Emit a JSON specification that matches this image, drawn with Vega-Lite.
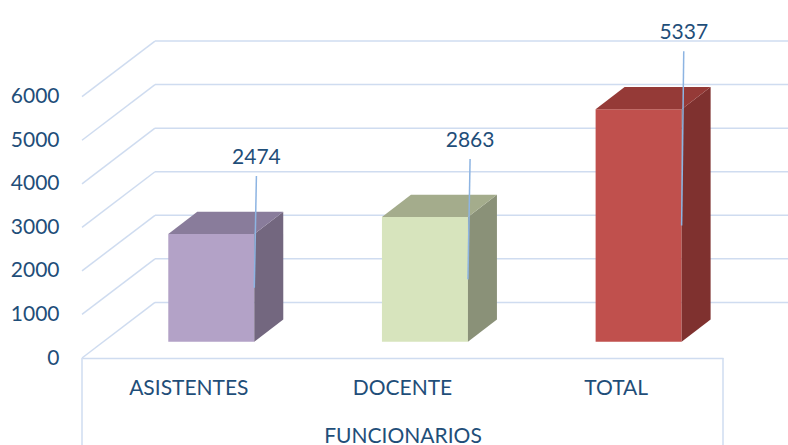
{
  "$schema": "https://vega.github.io/schema/vega-lite/v6.json",
  "width": 641,
  "height": 358,
  "autosize": {"type": "none"},
  "padding": {"left": 82, "top": 0, "right": 65, "bottom": 87},
  "background": "white",
  "config": {"view": {"stroke": null}, "font": "Lato"},
  "datasets": {
    "funcionarios": [
      {"cat": "ASISTENTES", "v": 2474},
      {"cat": "DOCENTE", "v": 2863},
      {"cat": "TOTAL", "v": 5337}
    ],
    "ticks": [{"g": 0}, {"g": 1000}, {"g": 2000}, {"g": 3000}, {"g": 4000}, {"g": 5000}, {"g": 6000}]
  },
  "layer": [
    {
      "data": {"name": "ticks"},
      "transform": [{"calculate": "datum.g + 1277", "as": "gb"}],
      "mark": {"type": "rule", "color": "#cfdcf0", "strokeWidth": 1.5},
      "encoding": {
        "x": {"datum": 0, "type": "quantitative", "scale": {"domain": [0, 3], "nice": false, "zero": false},
          "axis": {"title": "FUNCIONARIOS", "titleFont": "Lato", "titleFontSize": 21, "titleFontWeight": "normal", "titleColor": "#1f4e79", "titlePadding": 67, "labels": false, "ticks": false, "grid": false, "domain": true, "domainColor": "#cfdcf0", "domainWidth": 1.5}},
        "x2": {"datum": 0.3416},
        "y": {"field": "g", "type": "quantitative", "scale": {"domain": [0, 8220], "nice": false, "zero": false},
          "axis": {"title": null, "format": "d", "values": [0, 1000, 2000, 3000, 4000, 5000, 6000], "labelFont": "Lato", "labelFontSize": 21, "labelColor": "#1f4e79", "labelPadding": 23, "domain": false, "ticks": false, "grid": false}},
        "y2": {"field": "gb"}
      }
    },
    {
      "data": {"name": "ticks"},
      "transform": [{"calculate": "datum.g + 1277", "as": "gb"}],
      "mark": {"type": "rule", "color": "#cfdcf0", "strokeWidth": 1.5},
      "encoding": {
        "x": {"datum": 0.3416, "type": "quantitative", "scale": {"domain": [0, 3], "nice": false, "zero": false},
          "axis": {"title": "FUNCIONARIOS", "titleFont": "Lato", "titleFontSize": 21, "titleFontWeight": "normal", "titleColor": "#1f4e79", "titlePadding": 67, "labels": false, "ticks": false, "grid": false, "domain": true, "domainColor": "#cfdcf0", "domainWidth": 1.5}},
        "x2": {"datum": 3.4},
        "y": {"field": "gb", "type": "quantitative", "scale": {"domain": [0, 8220], "nice": false, "zero": false},
          "axis": {"title": null, "format": "d", "values": [0, 1000, 2000, 3000, 4000, 5000, 6000], "labelFont": "Lato", "labelFontSize": 21, "labelColor": "#1f4e79", "labelPadding": 23, "domain": false, "ticks": false, "grid": false}}
      }
    },
    {
      "data": {"name": "funcionarios"},
      "transform": [
        {"window": [{"op": "row_number", "as": "rn"}]},
        {"aggregate": [{"op": "min", "field": "rn", "as": "lo0"}, {"op": "max", "field": "rn", "as": "hi0"}]},
        {"calculate": "datum.lo0 - 1", "as": "lo"},
        {"calculate": "datum.hi0", "as": "hi"},
        {"fold": ["lo", "hi"], "as": ["edge", "ex"]}
      ],
      "mark": {"type": "rule", "color": "#cfdcf0", "strokeWidth": 1.5},
      "encoding": {
        "x": {"field": "ex", "type": "quantitative", "scale": {"domain": [0, 3], "nice": false, "zero": false},
          "axis": {"title": "FUNCIONARIOS", "titleFont": "Lato", "titleFontSize": 21, "titleFontWeight": "normal", "titleColor": "#1f4e79", "titlePadding": 67, "labels": false, "ticks": false, "grid": false, "domain": true, "domainColor": "#cfdcf0", "domainWidth": 1.5}},
        "y": {"datum": 0, "type": "quantitative", "scale": {"domain": [0, 8220], "nice": false, "zero": false},
          "axis": {"title": null, "format": "d", "values": [0, 1000, 2000, 3000, 4000, 5000, 6000], "labelFont": "Lato", "labelFontSize": 21, "labelColor": "#1f4e79", "labelPadding": 23, "domain": false, "ticks": false, "grid": false}},
        "y2": {"datum": -2000}
      }
    },
    {
      "data": {"name": "funcionarios"},
      "transform": [
        {"window": [{"op": "row_number", "as": "rn"}]},
        {"calculate": "datum.rn - 1", "as": "i"},
        {"calculate": "datum.i + 0.4038", "as": "fx0"},
        {"calculate": "datum.i + 0.8063", "as": "fx1"},
        {"calculate": "374", "as": "yb"},
        {"calculate": "374 + datum.v", "as": "yt"}
      ],
      "mark": {"type": "rect"},
      "encoding": {
        "x": {"field": "fx0", "type": "quantitative", "scale": {"domain": [0, 3], "nice": false, "zero": false},
          "axis": {"title": "FUNCIONARIOS", "titleFont": "Lato", "titleFontSize": 21, "titleFontWeight": "normal", "titleColor": "#1f4e79", "titlePadding": 67, "labels": false, "ticks": false, "grid": false, "domain": true, "domainColor": "#cfdcf0", "domainWidth": 1.5}},
        "x2": {"field": "fx1"},
        "y": {"field": "yb", "type": "quantitative", "scale": {"domain": [0, 8220], "nice": false, "zero": false},
          "axis": {"title": null, "format": "d", "values": [0, 1000, 2000, 3000, 4000, 5000, 6000], "labelFont": "Lato", "labelFontSize": 21, "labelColor": "#1f4e79", "labelPadding": 23, "domain": false, "ticks": false, "grid": false}},
        "y2": {"field": "yt"},
        "color": {"field": "cat", "type": "nominal", "scale": {"domain": ["ASISTENTES", "DOCENTE", "TOTAL"], "range": ["#b3a2c7", "#d7e4bd", "#c0504d"]}, "legend": null}
      }
    },
    {
      "data": {"name": "funcionarios"},
      "transform": [
        {"window": [{"op": "row_number", "as": "rn"}]},
        {"calculate": "datum.rn - 1", "as": "i"},
        {"calculate": "datum.i + 0.8063", "as": "sa"},
        {"calculate": "datum.i + 0.8063 + 0.1357", "as": "sb"},
        {"fold": ["sa", "sb"], "as": ["k", "sx"]},
        {"calculate": "datum.k == 'sb' ? 512 : 0", "as": "off"},
        {"calculate": "374 + datum.off", "as": "lo"},
        {"calculate": "374 + datum.v + datum.off", "as": "hi"}
      ],
      "mark": {"type": "area", "orient": "vertical"},
      "encoding": {
        "x": {"field": "sx", "type": "quantitative", "scale": {"domain": [0, 3], "nice": false, "zero": false},
          "axis": {"title": "FUNCIONARIOS", "titleFont": "Lato", "titleFontSize": 21, "titleFontWeight": "normal", "titleColor": "#1f4e79", "titlePadding": 67, "labels": false, "ticks": false, "grid": false, "domain": true, "domainColor": "#cfdcf0", "domainWidth": 1.5}},
        "y": {"field": "hi", "type": "quantitative", "scale": {"domain": [0, 8220], "nice": false, "zero": false},
          "axis": {"title": null, "format": "d", "values": [0, 1000, 2000, 3000, 4000, 5000, 6000], "labelFont": "Lato", "labelFontSize": 21, "labelColor": "#1f4e79", "labelPadding": 23, "domain": false, "ticks": false, "grid": false}},
        "y2": {"field": "lo"},
        "detail": {"field": "cat"},
        "color": {"field": "cat", "type": "nominal", "scale": {"domain": ["ASISTENTES", "DOCENTE", "TOTAL"], "range": ["#73677f", "#8a9178", "#7f312f"]}, "legend": null}
      }
    },
    {
      "data": {"name": "funcionarios"},
      "transform": [
        {"window": [{"op": "row_number", "as": "rn"}]},
        {"calculate": "datum.rn - 1", "as": "i"},
        {"calculate": "374 + datum.v", "as": "ta"},
        {"calculate": "374 + datum.v + 512", "as": "tb"},
        {"fold": ["ta", "tb"], "as": ["k", "ty"]},
        {"calculate": "datum.k == 'tb' ? 0.1357 : 0", "as": "off"},
        {"calculate": "datum.i + 0.4038 + datum.off", "as": "xl"},
        {"calculate": "datum.i + 0.8063 + datum.off", "as": "xr"}
      ],
      "mark": {"type": "area", "orient": "horizontal"},
      "encoding": {
        "y": {"field": "ty", "type": "quantitative", "scale": {"domain": [0, 8220], "nice": false, "zero": false},
          "axis": {"title": null, "format": "d", "values": [0, 1000, 2000, 3000, 4000, 5000, 6000], "labelFont": "Lato", "labelFontSize": 21, "labelColor": "#1f4e79", "labelPadding": 23, "domain": false, "ticks": false, "grid": false}},
        "x": {"field": "xl", "type": "quantitative", "scale": {"domain": [0, 3], "nice": false, "zero": false},
          "axis": {"title": "FUNCIONARIOS", "titleFont": "Lato", "titleFontSize": 21, "titleFontWeight": "normal", "titleColor": "#1f4e79", "titlePadding": 67, "labels": false, "ticks": false, "grid": false, "domain": true, "domainColor": "#cfdcf0", "domainWidth": 1.5}},
        "x2": {"field": "xr"},
        "detail": {"field": "cat"},
        "color": {"field": "cat", "type": "nominal", "scale": {"domain": ["ASISTENTES", "DOCENTE", "TOTAL"], "range": ["#897c9b", "#a4ac8c", "#953a37"]}, "legend": null}
      }
    },
    {
      "data": {"name": "funcionarios"},
      "transform": [
        {"window": [{"op": "row_number", "as": "rn"}]},
        {"calculate": "datum.rn - 1", "as": "i"},
        {"calculate": "datum.i + 0.8063", "as": "fr"},
        {"calculate": "datum.i + 0.8163", "as": "lx"},
        {"calculate": "374 + datum.v", "as": "yt"},
        {"calculate": "374 + datum.v / 2", "as": "ym"}
      ],
      "mark": {"type": "rule", "color": "#8db4e2", "strokeWidth": 1.5, "yOffset": -58},
      "encoding": {
        "x": {"field": "lx", "type": "quantitative", "scale": {"domain": [0, 3], "nice": false, "zero": false},
          "axis": {"title": "FUNCIONARIOS", "titleFont": "Lato", "titleFontSize": 21, "titleFontWeight": "normal", "titleColor": "#1f4e79", "titlePadding": 67, "labels": false, "ticks": false, "grid": false, "domain": true, "domainColor": "#cfdcf0", "domainWidth": 1.5}},
        "x2": {"field": "fr"},
        "y": {"field": "yt", "type": "quantitative", "scale": {"domain": [0, 8220], "nice": false, "zero": false},
          "axis": {"title": null, "format": "d", "values": [0, 1000, 2000, 3000, 4000, 5000, 6000], "labelFont": "Lato", "labelFontSize": 21, "labelColor": "#1f4e79", "labelPadding": 23, "domain": false, "ticks": false, "grid": false}},
        "y2": {"field": "ym"}
      }
    },
    {
      "data": {"name": "funcionarios"},
      "transform": [
        {"window": [{"op": "row_number", "as": "rn"}]},
        {"calculate": "datum.rn - 1", "as": "i"},
        {"calculate": "datum.i + 0.8163", "as": "lx"},
        {"calculate": "374 + datum.v", "as": "yt"}
      ],
      "mark": {"type": "text", "font": "Lato", "fontSize": 21, "color": "#1f4e79", "dy": -76, "baseline": "middle", "align": "center"},
      "encoding": {
        "x": {"field": "lx", "type": "quantitative", "scale": {"domain": [0, 3], "nice": false, "zero": false},
          "axis": {"title": "FUNCIONARIOS", "titleFont": "Lato", "titleFontSize": 21, "titleFontWeight": "normal", "titleColor": "#1f4e79", "titlePadding": 67, "labels": false, "ticks": false, "grid": false, "domain": true, "domainColor": "#cfdcf0", "domainWidth": 1.5}},
        "y": {"field": "yt", "type": "quantitative", "scale": {"domain": [0, 8220], "nice": false, "zero": false},
          "axis": {"title": null, "format": "d", "values": [0, 1000, 2000, 3000, 4000, 5000, 6000], "labelFont": "Lato", "labelFontSize": 21, "labelColor": "#1f4e79", "labelPadding": 23, "domain": false, "ticks": false, "grid": false}},
        "text": {"field": "v", "type": "quantitative", "format": "d"}
      }
    },
    {
      "data": {"name": "funcionarios"},
      "transform": [
        {"window": [{"op": "row_number", "as": "rn"}]},
        {"calculate": "datum.rn - 0.5", "as": "cx"}
      ],
      "mark": {"type": "text", "font": "Lato", "fontSize": 21, "color": "#1f4e79", "dy": 31, "baseline": "middle", "align": "center"},
      "encoding": {
        "x": {"field": "cx", "type": "quantitative", "scale": {"domain": [0, 3], "nice": false, "zero": false},
          "axis": {"title": "FUNCIONARIOS", "titleFont": "Lato", "titleFontSize": 21, "titleFontWeight": "normal", "titleColor": "#1f4e79", "titlePadding": 67, "labels": false, "ticks": false, "grid": false, "domain": true, "domainColor": "#cfdcf0", "domainWidth": 1.5}},
        "y": {"datum": 0, "type": "quantitative", "scale": {"domain": [0, 8220], "nice": false, "zero": false},
          "axis": {"title": null, "format": "d", "values": [0, 1000, 2000, 3000, 4000, 5000, 6000], "labelFont": "Lato", "labelFontSize": 21, "labelColor": "#1f4e79", "labelPadding": 23, "domain": false, "ticks": false, "grid": false}},
        "text": {"field": "cat"}
      }
    }
  ],
  "resolve": {"scale": {"color": "independent"}}
}
